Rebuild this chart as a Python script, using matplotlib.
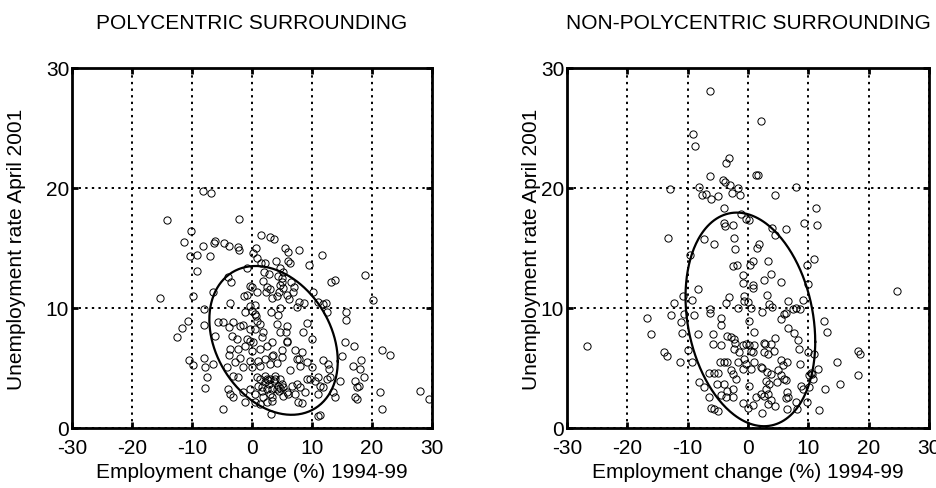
import numpy as np
import matplotlib
matplotlib.use("Agg")
import matplotlib.pyplot as plt

plt.rcParams['font.family'] = ['Liberation Sans', 'DejaVu Sans']
plt.rcParams['axes.unicode_minus'] = False

# polycentric surrounding: employment change (%) , unemployment rate (%)
poly_x = [-14.1, -10.2, -11.4, -10.3, -9.2, -9.2, -15.4, -9.9, -10.7, -11.6, -12.55, -10.55, -9.9,
          -8.11, -6.84, -2.17, -8.17, -6.17, -6.34, -4.67, -3.78, -2.28, -2.11, -7.0, -3.95, -3.5,
          1.5, 3.0, 3.66, 0.66, 0.22, 5.44, 6.05, 7.83, 11.61, 0.89, 1.44, 2.16, 3.94, 6.0, 6.33,
          9.55, -0.89, 4.66, 5.22, 2.0, 2.89, 4.28, 4.94, 1.89, 4.94, 4.66, 6.44, -0.34, 0.05, 2.44,
          7.05, 13.11, 13.77, 18.83,
          5.22, 6.78, 4.44, 3.0, 2.33, 0.89, -0.89, -1.28, -6.45, -0.33, 0.5, 3.28, 4.22, 5.78, 6.22,
          7.89, 7.44, 8.67, 10.22, 11.05, 11.78, 12.33, 20.22, -8.0, -3.67, -1.17, -0.06, 0.5, 3.17,
          4.67, 4.39, 15.61, 15.67, 12.44, -7.95, -5.61, -4.89, -3.11, -3.78, -2.0, -1.45, 0.67, 0.78,
          1.33, 1.89, -0.33, 0.5, 4.11, 5.89, 9.11, -6.17, -3.39, -2.56, -0.89, -0.33, 0.22, 1.61,
          3.28, 4.67, 5.67, 8.56, 9.94, 5.78, -3.67, -3.78, -2.28, -1.17, -0.06, 1.33, 2.44, 3.55,
          4.94, 5.89, 7.17, 8.28, 7.89, 4.94, 3.28, 2.17, 1.06, -0.33, -2.0, -2.83, -1.45, -0.06,
          1.33, 3.0, 4.22, 6.33, 7.44, 9.11, 8.0, 9.94, 11.89, 12.72, 12.83, 14.94, 15.55, 17.0,
          16.89, 18.17, 18.0, 18.72, 21.61, 23.0, -8.0, -6.45, -7.84, -7.56, -7.78, -4.22, -3.11,
          -2.28, -3.95, -3.67, -3.11, -4.78, -1.45, -1.17, -0.33, 0.5, 0.78, 1.33, 2.17, 2.44, 3.0,
          3.83, 4.67, 1.05, 1.61, 2.44, 3.28, 4.11, 4.55, 5.22, 5.78, 6.61, 7.44, 8.0, 8.83, 9.67,
          10.5, 11.05, 11.33, 11.78, 12.44, 13.0, 13.55, 13.83, 11.05, 9.11, 3.0, 3.28, 2.44, 1.89,
          0.5, 1.33, 7.72, 8.28, 5.22, 6.05, 7.17, 14.67, 17.17, 17.55, 17.89, 17.17, 17.44, 21.33,
          21.61, 28.0, 29.55, 3.11, 11.05, 11.33,
          2.8, 3.6, 4.3, 2.2, 3.9, 1.7, 5.0, 2.6, 4.6, 3.4]
poly_y = [17.3, 16.4, 15.5, 14.3, 14.4, 13.1, 10.8, 11.0, 8.9, 8.3, 7.6, 5.7, 5.25,
          19.72, 19.58, 17.44, 15.19, 15.61, 15.42, 15.42, 15.19, 15.11, 14.86, 14.36, 12.56, 12.19,
          16.05, 15.92, 15.75, 15.03, 14.58, 14.97, 14.69, 14.8, 14.41, 14.17, 13.75, 13.72, 13.92,
          13.92, 13.72, 13.61, 13.33, 13.3, 12.97, 13.03, 12.8, 12.69, 12.47, 12.22, 12.14, 11.92,
          12.14, 11.86, 11.78, 11.72, 11.72, 12.14, 12.33, 12.78,
          11.64, 11.31, 11.31, 11.58, 11.36, 11.31, 11.08, 11.03, 11.36, 10.2, 10.25, 10.8, 10.97,
          11.08, 10.75, 10.53, 10.06, 10.42, 11.31, 10.53, 10.33, 10.42, 10.7, 9.92, 10.42, 9.7, 9.78,
          9.5, 9.64, 9.97, 9.42, 9.7, 9.03, 9.64, 8.58, 8.81, 8.81, 8.81, 8.39, 8.53, 8.58, 9.36, 8.94,
          8.67, 8.03, 8.25, 8.25, 8.67, 8.53, 8.75, 7.7, 7.7, 7.42, 7.42, 7.28, 7.14, 7.56, 7.14, 7.97,
          7.97, 7.97, 7.42, 7.28, 6.58, 6.08, 6.58, 6.86, 6.44, 6.58, 6.86, 6.08, 6.53, 7.2, 6.53, 6.31,
          5.75, 5.89, 5.97, 5.75, 5.61, 5.61, 5.81, 5.47, 5.06, 5.06, 5.2, 5.33, 5.42, 4.86, 5.75, 5.53,
          5.2, 5.06, 5.7, 5.33, 4.92, 6.03, 7.2, 6.81, 5.2, 5.67, 4.92, 4.22, 6.53, 6.08, 5.81, 5.33,
          5.06, 4.22, 3.31, 5.06, 4.36, 4.22, 3.25, 2.83, 2.56, 1.58, 2.97, 2.14, 3.25, 2.83, 4.22,
          4.08, 4.36, 4.08, 4.08, 4.08, 4.08, 3.53, 3.39, 3.25, 3.25, 3.25, 3.11, 3.39, 2.97, 3.53,
          3.67, 3.39, 2.97, 4.08, 3.95, 4.22, 3.53, 3.39, 4.08, 4.22, 2.97, 2.56, 2.83, 4.08, 2.83,
          2.28, 2.14, 2.56, 2.14, 2.0, 2.14, 2.08, 2.7, 2.83, 2.83, 3.95, 3.95, 3.39, 3.53, 2.56, 2.42,
          2.97, 1.58, 3.11, 2.42, 1.17, 1.03, 1.08,
          3.7, 3.9, 3.5, 3.8, 4.3, 3.1, 3.7, 4.0, 3.3, 2.6]

# non-polycentric surrounding
nonpoly_x = [-6.35, -9.1, -8.7, -3.2, -3.6, -6.25, -4.2, -3.8, -2.9, -1.7, -2.7, -1.3, -8.1, -12.9,
             -7.6, -7.0, -6.1, -4.9, -3.9, 1.3, 1.7, 2.2, 7.95, 4.4, 11.3,
             -1.2, -0.3, 0.2, -3.9, -3.8, -2.4, -13.3, -7.25, -5.6, -2.3, -2.2, 1.5, 1.9, -9.6, 0.8,
             0.4, -2.5, -1.8, -0.9, -0.9, 0.8, 0.9, -8.2, -10.8, -9.2, -12.2, -3.1, -3.6, -0.6, -0.7,
             -0.05, -1.7, -6.25, -6.25, 0.5, -10.6, -9.0, -12.8, -16.7, -4.5,
             6.3, 4.0, 4.5, 9.3, 11.4, 3.4, 3.8, 5.4, 2.6, 3.15, 3.5, 4.0, 6.6, 9.1, 7.4, 7.95, 8.7,
             9.8, 11.0, 9.9, 24.7,
             -26.7, -11.1, -11.0, -16.0, -14.0, -13.4, -11.2, -10.0, -9.2, -8.2, -4.5, -5.85, -5.85,
             -4.4, -3.4, -2.8, -2.3, -2.2, -2.3, -1.45, -0.9, -0.3, 0.2, 0.5, 0.8, 1.0, 1.0, 0.2, -4.6,
             -3.9, -3.4, -1.7, -0.6, -0.3, -0.9, 0.5, 1.0, 2.2, -2.8, -2.5, -2.0, -6.4, -5.6, -5.0,
             -5.1, -8.1, -7.25, -6.4, -3.9, -3.4, -2.5, -2.4, -3.6, -4.5, -6.1, -5.7, -4.9, -0.9,
             -0.05, 0.8, 1.3, 0.2,
             2.3, 5.5, 5.9, 6.3, 12.55, 13.05, 6.6, 7.7, 8.3, 4.5, 8.5, 9.9, 11.0, 14.75, 18.2, 18.5,
             18.2, 15.3, 12.8, 11.6, 10.4, 10.2, 10.7, 8.7, 6.5, 5.75, 5.4, 5.0, 5.5, 4.3, 2.7, 3.3,
             2.6, 2.8, 3.8, 2.3, 3.15, 3.8, 3.0, 3.5, 4.8, 5.9, 6.3, 3.0, 3.3, 2.7, 2.2, 6.5, 6.7,
             6.3, 8.8, 9.1, 10.2, 10.6, 4.5, 6.5, 8.0, 8.2, 9.8, 11.7, 2.3, 3.3, 3.8]
nonpoly_y = [28.1, 24.5, 23.5, 22.5, 22.1, 21.0, 20.7, 20.5, 20.25, 20.0, 19.6, 19.4, 20.1, 19.9,
             19.4, 19.5, 19.1, 19.3, 18.3, 21.1, 21.1, 25.6, 20.1, 19.4, 18.3,
             17.8, 17.4, 17.3, 17.1, 16.8, 16.9, 15.8, 15.75, 15.3, 15.8, 14.9, 15.0, 15.3, 14.4, 13.9,
             13.6, 13.5, 13.6, 12.75, 12.1, 11.9, 11.7, 11.6, 11.0, 10.7, 10.4, 10.9, 10.4, 11.0, 10.6,
             10.5, 10.0, 9.9, 9.6, 10.0, 9.5, 9.4, 9.4, 9.2, 9.2,
             16.6, 16.7, 16.1, 17.1, 16.9, 13.9, 12.8, 12.2, 12.3, 11.1, 10.3, 10.1, 10.6, 10.7, 9.9,
             10.0, 9.9, 13.6, 14.1, 12.0, 11.4,
             6.8, 8.8, 7.9, 7.8, 6.3, 6.0, 5.5, 6.5, 5.5, 7.8, 8.6, 7.8, 7.0, 6.9, 7.7, 7.55, 7.4, 7.1,
             6.6, 6.3, 6.9, 7.0, 6.9, 6.4, 6.3, 6.9, 8.0, 8.9, 5.5, 5.5, 5.5, 5.5, 5.75, 5.3, 4.9, 4.9,
             5.5, 5.1, 4.8, 4.5, 4.1, 4.6, 4.6, 4.6, 3.7, 3.8, 3.4, 2.6, 3.7, 3.1, 3.25, 2.6, 2.6, 2.75,
             1.7, 1.6, 1.4, 2.1, 1.7, 1.9, 2.6, 3.5,
             9.7, 9.1, 9.5, 9.6, 8.9, 8.0, 8.3, 7.9, 7.3, 7.5, 6.6, 6.3, 6.2, 5.5, 6.4, 6.2, 4.4, 3.7,
             3.25, 4.9, 4.6, 4.4, 4.1, 5.3, 5.5, 5.25, 5.7, 4.8, 4.4, 6.4, 6.3, 6.2, 7.1, 7.0, 7.0, 5.0,
             4.7, 4.5, 3.9, 3.7, 3.8, 4.1, 4.0, 3.25, 2.8, 2.7, 2.8, 3.0, 2.6, 2.5, 3.5, 3.25, 3.4,
             4.5, 1.8, 1.6, 2.2, 1.6, 2.2, 1.5, 1.25, 2.0, 2.3]

# ellipses: centre, half-extent in x and y, cosine of the phase between x and y
poly_ell = (3.6, 7.3, 10.7, 6.2, -0.28)
nonpoly_ell = (0.4, 9.05, 10.75, 8.9, -0.21)

titles = ["POLYCENTRIC SURROUNDING", "NON-POLYCENTRIC SURROUNDING"]
ticks_x = [-30, -20, -10, 0, 10, 20, 30]
ticks_y = [0, 10, 20, 30]

fig = plt.figure(figsize=(9.37, 4.89), dpi=100)
ax1 = fig.add_axes([0.0768, 0.1227, 0.3842, 0.7362])
ax2 = fig.add_axes([0.6051, 0.1227, 0.3863, 0.7362])

fs = 15
for ax, xs, ys, ell, title, ypad in [(ax1, poly_x, poly_y, poly_ell, titles[0], 14),
                                     (ax2, nonpoly_x, nonpoly_y, nonpoly_ell, titles[1], 0)]:
    ax.plot(xs, ys, 'o', mfc='none', mec='black', ms=5.2, mew=0.7, zorder=3)
    cx, cy, a, b, c = ell
    ph = np.arccos(c)
    t = np.linspace(0, 2*np.pi, 300)
    ax.plot(cx + a*np.cos(t), cy + b*np.cos(t - ph), color='black', lw=1.6, zorder=4)
    ax.set_xlim(-30, 30)
    ax.set_ylim(0, 30)
    ax.set_xticks(ticks_x)
    ax.set_yticks(ticks_y)
    ax.grid(True, color='black', linestyle=(0, (1.2, 2.2)), linewidth=1.4)
    ax.tick_params(direction='in', length=4, width=2, top=True, right=True, labelsize=fs)
    ax.tick_params(axis='x', pad=7.5)
    ax.tick_params(axis='y', pad=2)
    for s in ax.spines.values():
        s.set_linewidth(2)
    ax.set_title(title, fontsize=fs, pad=29)
    ax.set_xlabel("Employment change (%) 1994-99", fontsize=fs, labelpad=3.5)
    ax.set_ylabel("Unemployment rate April 2001", fontsize=fs, labelpad=ypad)

fig.savefig("out.png", dpi=100)
